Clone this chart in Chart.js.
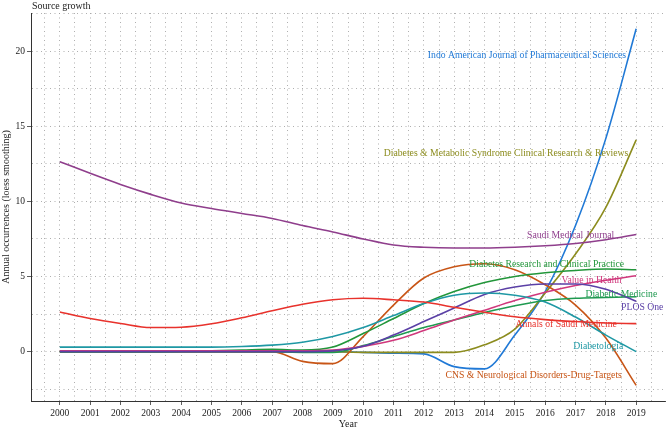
<!DOCTYPE html>
<html>
<head>
<meta charset="utf-8">
<script src="https://cdn.jsdelivr.net/npm/chart.js@4"></script>
<style>
  html, body { margin: 0; padding: 0; background: #fff; }
  #wrap { width: 666px; height: 430px; }
</style>
</head>
<body>
<div id="wrap"><canvas id="growth"></canvas></div>
<script>
const years = [2000, 2001, 2002, 2003, 2004, 2005, 2006, 2007, 2008, 2009,
  2010, 2011, 2012, 2013, 2014, 2015, 2016, 2017, 2018, 2019];
const yTicks = [-2.5, 0, 2.5, 5, 7.5, 10, 12.5, 15, 17.5, 20, 22.5];
const yLabels = [0, 5, 10, 15, 20];

const indoAmerican = [0, 0, 0, 0, 0, 0, 0, 0, 0, 0, -0.05, -0.1, -0.15, -1.0, -1.15, 1.1, 4.0, 8.4, 14.2, 21.5];
const diabetesMetabolic = [0, 0, 0, 0, 0, 0, 0, 0, 0, 0, -0.05, -0.05, -0.05, -0.05, 0.45, 1.5, 3.9, 6.5, 9.6, 14.1];
const saudiMedical = [12.65, 11.87, 11.13, 10.47, 9.9, 9.53, 9.2, 8.87, 8.4, 7.97, 7.5, 7.1, 6.95, 6.9, 6.9, 6.95, 7.05, 7.2, 7.45, 7.8];
const annalsSaudi = [2.64, 2.2, 1.87, 1.6, 1.62, 1.85, 2.25, 2.72, 3.15, 3.45, 3.55, 3.45, 3.3, 2.95, 2.62, 2.32, 2.13, 2.0, 1.9, 1.86];
const diabetologia = [0.3, 0.3, 0.3, 0.3, 0.3, 0.3, 0.34, 0.43, 0.62, 1.0, 1.6, 2.4, 3.2, 3.75, 3.9, 3.75, 3.3, 2.3, 1.1, 0];
const cnsNeuro = [0, 0, 0, 0, 0, 0, 0, 0, -0.65, -0.8, 1.0, 3.1, 4.9, 5.65, 5.85, 5.45, 4.45, 3.1, 0.9, -2.25];
const diabetesResearch = [0, 0, 0, 0, 0.02, 0.05, 0.1, 0.15, 0.1, 0.3, 1.2, 2.2, 3.2, 4.0, 4.6, 5.0, 5.25, 5.4, 5.5, 5.45];
const valueInHealth = [0.05, 0.05, 0.05, 0.05, 0.05, 0.05, 0.05, 0.05, 0.05, 0.1, 0.35, 0.75, 1.4, 2.1, 2.75, 3.4, 3.95, 4.4, 4.75, 5.05];
const diabeticMedicine = [0, 0, 0, 0, 0, 0, 0, 0, -0.05, -0.05, 0.4, 1.0, 1.6, 2.1, 2.6, 3.05, 3.4, 3.55, 3.6, 3.65];
const plosOne = [0, 0, 0, 0, 0, 0, 0, 0, 0, 0.05, 0.35, 1.1, 2.0, 2.9, 3.8, 4.3, 4.5, 4.5, 4.15, 3.35];

// name, values, colour, label anchor (year, value)
const series = [
  ['Saudi Medical Journal', saudiMedical, '#8f3e8c', 2016.84, 7.75],
  ['Annals of Saudi Medicine', annalsSaudi, '#e8322c', 2016.69, 1.8],
  ['Diabetologia', diabetologia, '#1e98a4', 2017.75, 0.31],
  ['PLOS One', plosOne, '#5b40a6', 2019.2, 2.93],
  ['Value in Health', valueInHealth, '#d0387c', 2017.53, 4.75],
  ['Diabetic Medicine', diabeticMedicine, '#1f9a50', 2018.51, 3.82],
  ['Diabetes Research and Clinical Practice', diabetesResearch, '#22963a', 2016.05, 5.8],
  ['CNS & Neurological Disorders-Drug-Targets', cnsNeuro, '#c85516', 2015.62, -1.6],
  ['Diabetes & Metabolic Syndrome Clinical Research & Reviews', diabetesMetabolic, '#8c8c1e', 2014.71, 13.2],
  ['Indo American Journal of Pharmaceutical Sciences', indoAmerican, '#2079d6', 2015.4, 19.69],
];

const serif = "'Liberation Serif', 'DejaVu Serif', serif";

const lineLabels = {
  id: 'lineLabels',
  afterDatasetsDraw(chart) {
    const ctx = chart.ctx;
    const x = chart.scales.x;
    const y = chart.scales.y;
    ctx.save();
    ctx.font = '9.7px ' + serif;
    ctx.textAlign = 'center';
    ctx.textBaseline = 'middle';
    series.forEach((s) => {
      ctx.fillStyle = s[2];
      ctx.fillText(s[0], x.getPixelForValue(s[3]), y.getPixelForValue(s[4]));
    });
    ctx.restore();
  },
};

const heading = {
  id: 'heading',
  afterDraw(chart) {
    const ctx = chart.ctx;
    ctx.save();
    ctx.font = '10px ' + serif;
    ctx.fillStyle = '#222';
    ctx.textAlign = 'left';
    ctx.textBaseline = 'middle';
    ctx.fillText('Source growth', 32, 6);
    ctx.restore();
  },
};

const halfYears = [];
years.forEach((yr) => {
  halfYears.push(yr);
  halfYears.push(yr + 0.5);
});
halfYears.unshift(1999.5);

new Chart(document.getElementById('growth'), {
  type: 'line',
  data: {
    datasets: series.map((s) => ({
      label: s[0],
      data: years.map((yr, i) => ({ x: yr, y: s[1][i] })),
      borderColor: s[2],
      borderWidth: 1.6,
      pointRadius: 0,
      fill: false,
      cubicInterpolationMode: 'monotone',
    })),
  },
  options: {
    animation: false,
    responsive: true,
    maintainAspectRatio: false,
    layout: { padding: { top: 13, right: 1, left: 0, bottom: 0 } },
    plugins: {
      legend: { display: false },
      tooltip: { enabled: false },
    },
    scales: {
      x: {
        type: 'linear',
        min: 1999.05,
        max: 2019.95,
        afterBuildTicks: (scale) => {
          scale.ticks = halfYears.map((v) => ({ value: v }));
        },
        afterFit: (scale) => { scale.height = 29; },
        ticks: {
          autoSkip: false,
          maxRotation: 0,
          padding: 3,
          color: '#222',
          font: { family: serif, size: 9.5 },
          callback: (v) => (Number.isInteger(v) ? String(v) : ''),
        },
        grid: {
          color: '#9a9a9a',
          lineWidth: 0.8,
          tickLength: 4,
          tickColor: (c) => (c.tick && Number.isInteger(c.tick.value) ? '#333' : 'rgba(0,0,0,0)'),
        },
        border: { display: true, color: '#333', width: 1, dash: [1, 3.5] },
        title: {
          display: true,
          text: 'Year',
          color: '#222',
          padding: 0,
          font: { family: serif, size: 10 },
        },
      },
      y: {
        min: -3.29,
        max: 22.55,
        afterBuildTicks: (scale) => {
          scale.ticks = yTicks.map((v) => ({ value: v }));
        },
        afterFit: (scale) => { scale.width = 31; },
        ticks: {
          autoSkip: false,
          padding: 2,
          color: '#222',
          font: { family: serif, size: 9.5 },
          callback: (v) => (yLabels.includes(v) ? String(v) : ''),
        },
        grid: {
          color: '#9a9a9a',
          lineWidth: 0.8,
          tickLength: 4,
          tickColor: (c) => (c.tick && yLabels.includes(c.tick.value) ? '#333' : 'rgba(0,0,0,0)'),
        },
        border: { display: true, color: '#333', width: 1, dash: [1, 3.5] },
        title: {
          display: true,
          text: 'Annual occurrences (loess smoothing)',
          color: '#222',
          padding: 0,
          font: { family: serif, size: 10 },
        },
      },
    },
  },
  plugins: [lineLabels, heading],
});
</script>
</body>
</html>
